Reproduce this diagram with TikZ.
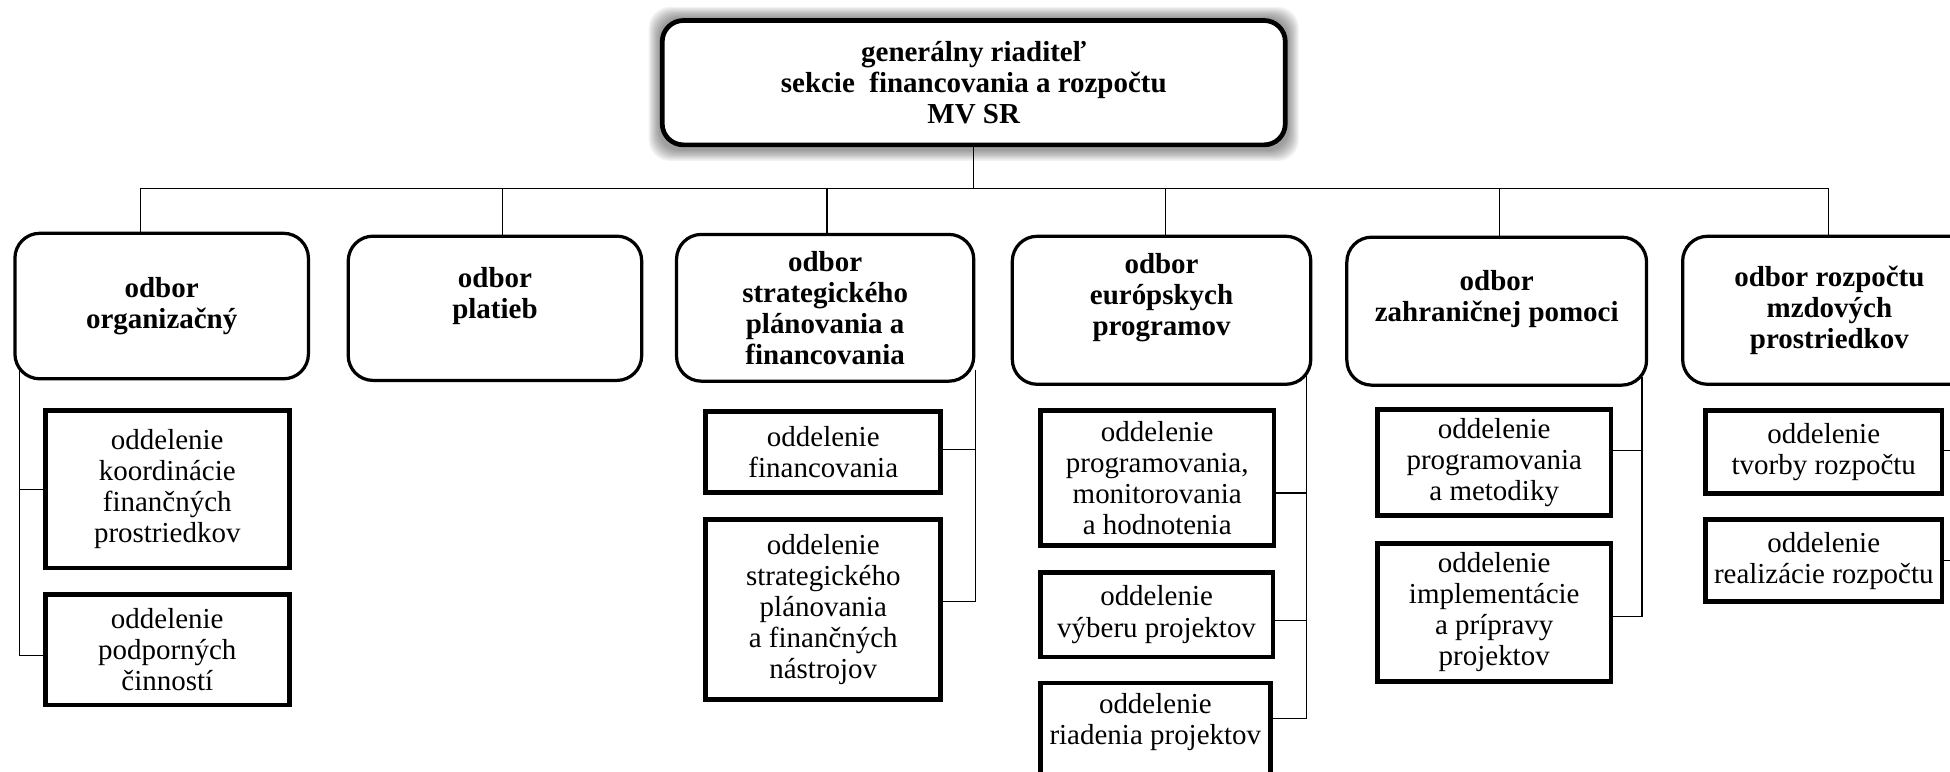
\documentclass[tikz,border=0pt]{standalone}
\usepackage{fontspec}
\setmainfont{Liberation Serif}
\pgfdeclarelayer{bg}
\pgfsetlayers{bg,main}
\newcommand\boxfont{\fontsize{23.3}{25}\selectfont}
\begin{document}
\begin{tikzpicture}[x=1pt,y=-1pt,
  topbox/.style={draw,line width=3.8pt,rounded corners=17pt,fill=white,inner sep=0pt,align=center,font=\boxfont\bfseries},
  odbor/.style={draw,line width=2.6pt,rounded corners=20pt,fill=white,inner sep=0pt,align=center,font=\boxfont\bfseries},
  odd/.style={draw,line width=3.8pt,fill=white,inner sep=0pt,align=center,font=\boxfont},
  conn/.style={line width=0.9pt,black},
]
\useasboundingbox (0,0) rectangle (1568,620);
\clip (0,0) rectangle (1568,620);

% top box
\node[topbox,minimum width=501pt,minimum height=100pt] (top) at (783,66.5)
  {generálny riaditeľ\\sekcie\ \ financovania a rozpočtu\\MV SR};

% odbor boxes
\node[odbor,minimum width=236pt,minimum height=117pt] (o1) at (130,246.1) {odbor\\organizačný};
\node[odbor,minimum width=236pt,minimum height=116pt] (o2) at (398,247.9) {odbor\\platieb\\\mbox{}};
\node[odbor,minimum width=239pt,minimum height=118pt] (o3) at (663.5,247.5) {odbor\\strategického\\plánovania a\\financovania};
\node[odbor,minimum width=240pt,minimum height=119pt] (o4) at (934,249.5) {odbor\\európskych\\programov\\\mbox{}};
\node[odbor,minimum width=241pt,minimum height=119pt] (o5) at (1203.5,250.2) {odbor\\zahraničnej pomoci\\\mbox{}};
\node[odbor,minimum width=236pt,minimum height=119pt] (o6) at (1471,249.5) {odbor rozpočtu\\mzdových\\prostriedkov};

% oddelenie boxes
\node[odd,minimum width=196pt,minimum height=127pt] (a) at (134.5,393.3) {oddelenie\\koordinácie\\finančných\\prostriedkov};
\node[odd,minimum width=196pt,minimum height=89pt] (b) at (134.5,522.3) {oddelenie\\podporných\\činností};
\node[odd,minimum width=189pt,minimum height=65pt] (c) at (662,363.3) {oddelenie\\financovania};
\node[odd,minimum width=189pt,minimum height=145pt] (d) at (662,490) {oddelenie\\strategického\\plánovania\\a finančných\\nástrojov};
\node[odd,minimum width=188pt,minimum height=109pt] (e) at (930.5,384.4) {oddelenie\\programovania,\\monitorovania\\a hodnotenia};
\node[odd,minimum width=187pt,minimum height=68pt] (f) at (930,494.2) {oddelenie\\výberu projektov};
\node[odd,minimum width=185pt,minimum height=83pt] (g) at (929,590.8) {oddelenie\\riadenia projektov\\\mbox{}};
\node[odd,minimum width=188pt,minimum height=85pt] (h) at (1201.5,372) {oddelenie\\programovania\\a metodiky};
\node[odd,minimum width=188pt,minimum height=111pt] (i) at (1201.5,492.3) {oddelenie\\implementácie\\a prípravy\\projektov};
\node[odd,minimum width=190pt,minimum height=67pt] (j) at (1466.5,363.3) {oddelenie\\tvorby rozpočtu};
\node[odd,minimum width=190pt,minimum height=66pt] (k) at (1466.5,450.8) {oddelenie\\realizácie rozpočtu};

\coordinate (bus) at (783,151.5);

\begin{pgfonlayer}{bg}
  % shadow of top box
  \foreach \s in {1,...,9}
    \fill[black,opacity=0.05,rounded corners=17pt]
      ([shift={(-\s pt,\s pt)}]top.north west) rectangle ([shift={(\s pt,-\s pt-2pt)}]top.south east);
  % main tree
  \draw[conn] (top.south) -- (bus);
  \draw[conn] ([xshift=-17pt]o1.north) |- (bus);
  \draw[conn] ([xshift=6pt]o2.north) |- (bus);
  \draw[conn] ([xshift=1.5pt]o3.north) |- (bus);
  \draw[conn] ([xshift=3pt]o4.north) |- (bus);
  \draw[conn] ([xshift=2.5pt]o5.north) |- (bus);
  \draw[conn] ([xshift=-1pt]o6.north) |- (bus);
  % column 1
  \draw[conn] ([shift={(5pt,8pt)}]o1.south west) |- (a.west);
  \draw[conn] ([shift={(5pt,8pt)}]o1.south west) |- ([yshift=-4.7pt]b.west);
  % column 3
  \draw[conn] ([shift={(0pt,10pt)}]o3.south east) |- ([yshift=1.6pt]c.east);
  \draw[conn] ([shift={(0pt,10pt)}]o3.south east) |- ([yshift=6.5pt]d.east);
  % column 4
  \draw[conn] ([shift={(-5pt,8pt)}]o4.south east) |- ([yshift=-12pt]e.east);
  \draw[conn] ([shift={(-5pt,8pt)}]o4.south east) |- ([yshift=-4.8pt]f.east);
  \draw[conn] ([shift={(-5pt,8pt)}]o4.south east) |- ([yshift=12.8pt]g.east);
  % column 5
  \draw[conn] ([shift={(-5pt,8pt)}]o5.south east) |- ([yshift=9.5pt]h.east);
  \draw[conn] ([shift={(-5pt,8pt)}]o5.south east) |- ([yshift=-3.7pt]i.east);
  % column 6
  \draw[conn] ([shift={(-5pt,8pt)}]o6.south east) |- ([yshift=1.3pt]j.east);
  \draw[conn] ([shift={(-5pt,8pt)}]o6.south east) |- (k.east);
\end{pgfonlayer}
\end{tikzpicture}
\end{document}
